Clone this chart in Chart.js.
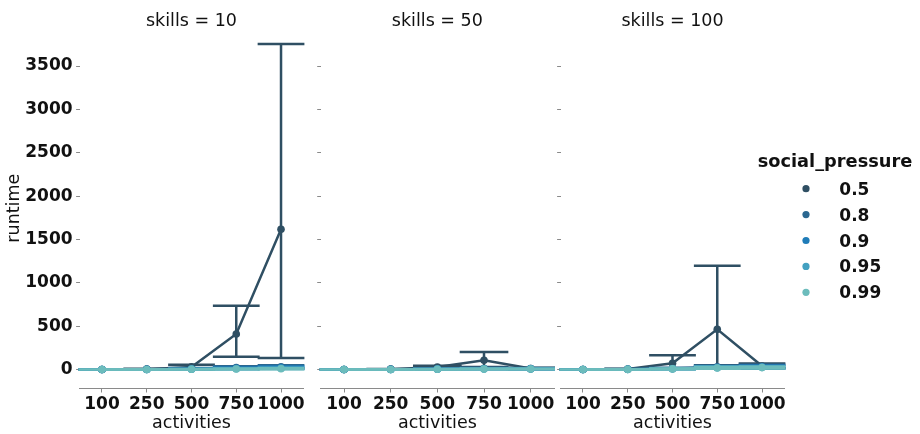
<!DOCTYPE html>
<html>
<head>
<meta charset="utf-8">
<script src="https://cdn.jsdelivr.net/npm/chart.js@4.4.0/dist/chart.umd.min.js"></script>
<style>
  html, body { margin: 0; padding: 0; background: #fff; }
  #wrap { position: relative; width: 920px; height: 434px; overflow: hidden; }
  canvas { position: absolute; top: 0; }
</style>
</head>
<body>
<div id="wrap">
  <canvas id="panel10" width="310" height="434" style="left:0px"></canvas>
  <canvas id="panel50" width="250" height="434" style="left:310px"></canvas>
  <canvas id="panel100" width="370" height="434" style="left:550px"></canvas>
</div>
<script>
// Categories and hue levels
const activities = ['100', '250', '500', '750', '1000'];
const socialPressure = ['0.5', '0.8', '0.9', '0.95', '0.99'];
const yTickValues = [0, 500, 1000, 1500, 2000, 2500, 3000, 3500];

// Mean runtime: one row per social_pressure level, one column per activity count
const runtimeSkills10 = [
  [0.5, 4, 30, 409, 1617],
  [0.4, 2, 9, 22, 30],
  [0.3, 1.5, 6, 14, 20],
  [0.3, 1, 4, 9, 14],
  [0.2, 1, 3, 6, 9]
];
const ciLowSkills10 = [
  [0.3, 2, 8, 148, 133],
  [0.2, 1, 4, 10, 14],
  [0.2, 0.8, 3, 7, 10],
  [0.1, 0.5, 2, 4, 7],
  [0.1, 0.5, 1, 3, 4]
];
const ciHighSkills10 = [
  [0.8, 8, 55, 736, 3754],
  [0.6, 4, 16, 38, 50],
  [0.5, 3, 10, 24, 34],
  [0.4, 2, 7, 15, 24],
  [0.3, 2, 5, 10, 15]
];

const runtimeSkills50 = [
  [0.5, 4, 28, 107, 12],
  [0.4, 2, 6, 12, 10],
  [0.3, 1.5, 5, 9, 8],
  [0.3, 1, 4, 7, 7],
  [0.2, 1, 3, 5, 6]
];
const ciLowSkills50 = [
  [0.3, 2, 12, 30, 5],
  [0.2, 1, 3, 6, 5],
  [0.2, 0.8, 2, 5, 4],
  [0.1, 0.5, 2, 3, 3],
  [0.1, 0.5, 1, 2, 3]
];
const ciHighSkills50 = [
  [0.8, 7, 42, 203, 20],
  [0.6, 4, 10, 20, 16],
  [0.5, 3, 8, 15, 13],
  [0.4, 2, 6, 12, 11],
  [0.3, 2, 5, 9, 10]
];

const runtimeSkills100 = [
  [0.5, 5, 71, 463, 40],
  [0.4, 3, 12, 30, 35],
  [0.3, 2, 9, 24, 28],
  [0.3, 2, 8, 20, 25],
  [0.2, 1.5, 7, 18, 22]
];
const ciLowSkills100 = [
  [0.3, 3, 15, 50, 15],
  [0.2, 1, 6, 15, 18],
  [0.2, 1, 5, 12, 15],
  [0.1, 0.8, 4, 10, 13],
  [0.1, 0.5, 3, 8, 12]
];
const ciHighSkills100 = [
  [0.8, 9, 165, 1197, 70],
  [0.6, 5, 20, 45, 55],
  [0.5, 4, 15, 38, 45],
  [0.4, 3, 13, 34, 38],
  [0.3, 3, 11, 30, 32]
];

const hueColors = ['#2f4f63', '#2a6790', '#1f7cb8', '#43a1c1', '#6cbcbc'];

const FONT = "'DejaVu Sans', 'Liberation Sans', sans-serif";
const AXIS_GREY = '#8a8a8a';
const Y_MIN = -219, Y_MAX = 3940;

// Confidence interval whiskers with wide caps, drawn just before each series
const ciBars = {
  id: 'ciBars',
  beforeDatasetDraw(chart, args) {
    const ds = chart.data.datasets[args.index];
    const xs = chart.scales.x, ys = chart.scales.y;
    const half = (xs.getPixelForValue(1) - xs.getPixelForValue(0)) / 2 + 1;
    const ctx = chart.ctx;
    ctx.save();
    ctx.strokeStyle = ds.borderColor;
    ctx.lineWidth = 2.5;
    ctx.lineCap = 'butt';
    ds.data.forEach((v, i) => {
      const x = xs.getPixelForValue(i);
      const yl = ys.getPixelForValue(ds.ciLow[i]);
      const yh = ys.getPixelForValue(ds.ciHigh[i]);
      ctx.beginPath();
      ctx.moveTo(x, yl); ctx.lineTo(x, yh);
      ctx.moveTo(x - half, yl); ctx.lineTo(x + half, yl);
      ctx.moveTo(x - half, yh); ctx.lineTo(x + half, yh);
      ctx.stroke();
    });
    ctx.restore();
  }
};

// Facet title centred over the plotting area
const facetTitle = {
  id: 'facetTitle',
  afterDraw(chart, args, opts) {
    const ctx = chart.ctx, a = chart.chartArea;
    ctx.save();
    ctx.fillStyle = '#111';
    ctx.font = '17.5px ' + FONT;
    ctx.textAlign = 'center';
    ctx.textBaseline = 'alphabetic';
    ctx.fillText(opts.text, (a.left + a.right) / 2, 25.5);
    ctx.restore();
  }
};

// Hue legend placed to the right of the last facet
const hueLegend = {
  id: 'hueLegend',
  afterDraw(chart, args, opts) {
    if (!opts.show) return;
    const ctx = chart.ctx;
    ctx.save();
    ctx.fillStyle = '#111';
    ctx.font = 'bold 17.8px ' + FONT;
    ctx.textAlign = 'center';
    ctx.textBaseline = 'alphabetic';
    ctx.fillText('social_pressure', 285, 166.5);
    ctx.font = 'bold 17px ' + FONT;
    ctx.textAlign = 'left';
    chart.data.datasets.forEach((ds, i) => {
      const y = 188.7 + i * 25.9;
      ctx.fillStyle = ds.borderColor;
      ctx.beginPath();
      ctx.arc(256, y, 3.6, 0, Math.PI * 2);
      ctx.fill();
      ctx.fillStyle = '#111';
      ctx.fillText(ds.label, 289.3, y + 6);
    });
    ctx.restore();
  }
};

function buildPanel(canvasId, skills, means, lows, highs, cfg) {
  const n = socialPressure.length;
  const datasets = socialPressure.map((lvl, h) => ({
    label: lvl,
    data: means[h],
    ciLow: lows[h],
    ciHigh: highs[h],
    // later levels are painted over earlier ones
    order: n - 1 - h,
    borderColor: hueColors[h],
    backgroundColor: hueColors[h],
    borderWidth: 2.5,
    pointRadius: 3.8,
    pointHoverRadius: 3.8,
    pointBorderWidth: 0,
    pointBackgroundColor: hueColors[h],
    tension: 0,
    clip: false
  }));

  return new Chart(document.getElementById(canvasId), {
    type: 'line',
    data: { labels: activities, datasets },
    plugins: [ciBars, facetTitle, hueLegend],
    options: {
      responsive: false,
      animation: false,
      events: [],
      layout: { padding: { left: 0, right: cfg.rightPad, top: 27.9, bottom: 0 } },
      plugins: {
        legend: { display: false },
        tooltip: { enabled: false },
        facetTitle: { text: 'skills = ' + skills },
        hueLegend: { show: !!cfg.legend }
      },
      scales: {
        x: {
          type: 'category',
          offset: true,
          afterFit(s) { s.height = 45.5; },
          border: { display: true, color: AXIS_GREY, width: 1 },
          grid: {
            display: true, drawOnChartArea: false, drawTicks: true,
            tickLength: 4, color: AXIS_GREY, tickColor: AXIS_GREY, offset: false
          },
          ticks: {
            color: '#111', padding: 2, maxRotation: 0, autoSkip: false,
            font: { family: FONT, size: 17, weight: 'bold' }
          },
          title: {
            display: true, text: 'activities', color: '#111',
            padding: { top: 0, bottom: 0 },
            font: { family: FONT, size: 17.5 }
          }
        },
        y: {
          type: 'linear',
          min: Y_MIN, max: Y_MAX,
          afterFit(s) { s.width = cfg.yWidth; },
          afterBuildTicks(s) { s.ticks = yTickValues.map(v => ({ value: v })); },
          border: { display: false },
          grid: {
            display: true, drawOnChartArea: false, drawTicks: true,
            tickLength: 3.5, color: AXIS_GREY, tickColor: AXIS_GREY
          },
          ticks: {
            display: cfg.yLabels, color: '#111', padding: 3.5,
            font: { family: FONT, size: 17, weight: 'bold' },
            callback: v => String(v)
          },
          title: {
            display: cfg.yLabels, text: 'runtime', color: '#111',
            padding: { top: 4, bottom: 4 },
            font: { family: FONT, size: 17.5 }
          }
        }
      }
    }
  });
}

buildPanel('panel10', 10, runtimeSkills10, ciLowSkills10, ciHighSkills10,
  { yWidth: 79.6, rightPad: 6.6, yLabels: true });
buildPanel('panel50', 50, runtimeSkills50, ciLowSkills50, ciHighSkills50,
  { yWidth: 10.7, rightPad: 6, yLabels: false });
buildPanel('panel100', 100, runtimeSkills100, ciLowSkills100, ciHighSkills100,
  { yWidth: 10.6, rightPad: 135.6, yLabels: false, legend: true });
</script>
</body>
</html>
